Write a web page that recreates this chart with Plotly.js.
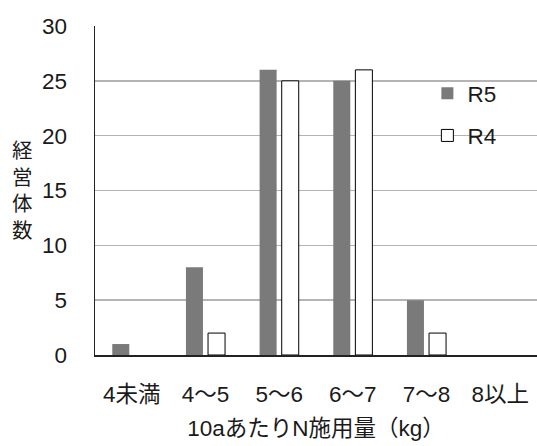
<!DOCTYPE html>
<html>
<head>
<meta charset="utf-8">
<script src="https://cdn.plot.ly/plotly-3.0.1.min.js"></script>
<style>
  html, body { margin: 0; padding: 0; background: #fff; }
  #chart { width: 537px; height: 446px; }
</style>
</head>
<body>
<div id="chart"></div>
<script>
// 10a当たり窒素施用量別の経営体数
const categories = ['4未満', '4～5', '5～6', '6～7', '7～8', '8以上'];
const r5Values = [1, 8, 26, 25, 5, 0];
const r4Values = [0, 2, 25, 26, 2, 0];
const yTicks = [0, 5, 10, 15, 20, 25, 30];

const FONT = 'Liberation Sans, Arial, "Noto Sans CJK JP", sans-serif';
const FS = 22.5;

// a count of zero draws no bar (and no outline on the baseline)
const asBars = vals => vals.map(v => (v === 0 ? null : v));

const traces = [
  {
    type: 'bar',
    name: 'R5',
    x: categories,
    y: asBars(r5Values),
    legendgroup: 'a',
    marker: { color: '#7a7a7a', line: { width: 0 } },
    hoverinfo: 'skip'
  },
  {
    type: 'bar',
    name: 'R4',
    x: categories,
    y: asBars(r4Values),
    legendgroup: 'b',
    marker: { color: '#ffffff', line: { color: '#000000', width: 1 } },
    hoverinfo: 'skip'
  }
];

const layout = {
  width: 537,
  height: 446,
  margin: { l: 95, r: 0, t: 26, b: 91, pad: 0 },
  paper_bgcolor: '#ffffff',
  plot_bgcolor: '#ffffff',
  font: { family: FONT, size: FS, color: '#1a1a1a' },
  barmode: 'group',
  bargap: 0.40,
  bargroupgap: 0.23,
  showlegend: true,
  legend: {
    x: 0.752, y: 0.86, xanchor: 'left', yanchor: 'top',
    traceorder: 'grouped',
    tracegroupgap: 10,
    font: { family: FONT, size: FS, color: '#1a1a1a' },
    bgcolor: 'rgba(0,0,0,0)',
    itemclick: false
  },
  xaxis: {
    type: 'category',
    showline: true, linecolor: '#222', linewidth: 1.5,
    showgrid: false, ticks: '',
    ticklabelstandoff: 18,
    tickfont: { family: FONT, size: FS, color: '#1a1a1a' },
    title: {
      text: '10aあたりN施用量（kg）',
      font: { family: FONT, size: FS, color: '#1a1a1a' },
      standoff: 14
    }
  },
  yaxis: {
    range: [0, 30],
    tickvals: yTicks,
    ticks: '',
    showline: true, linecolor: '#222', linewidth: 1.5,
    showgrid: true, gridcolor: '#b4b4b4', gridwidth: 1.5,
    zeroline: false,
    ticklabelstandoff: 22,
    tickfont: { family: FONT, size: FS, color: '#1a1a1a' }
  },
  annotations: [
    {
      text: '経<br>営<br>体<br>数',
      xref: 'paper', yref: 'paper',
      x: -0.165, y: 0.50,
      xanchor: 'center', yanchor: 'middle',
      showarrow: false,
      align: 'center',
      font: { family: FONT, size: 20.5, color: '#1a1a1a' }
    }
  ]
};

Plotly.newPlot('chart', traces, layout, { displayModeBar: false, staticPlot: true });
</script>
</body>
</html>
